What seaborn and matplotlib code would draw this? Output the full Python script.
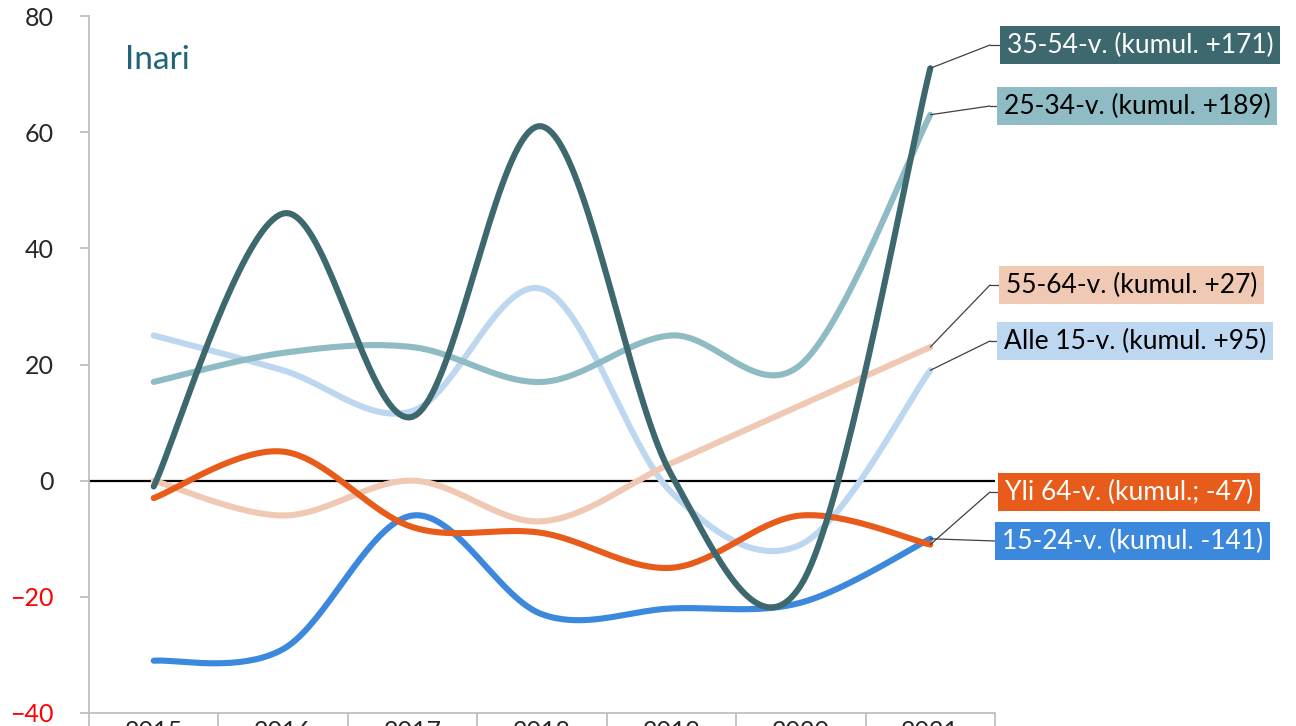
import numpy as np
import pandas as pd
import matplotlib
matplotlib.use("Agg")
import matplotlib.pyplot as plt
import seaborn as sns
from matplotlib.lines import Line2D

years = ["2015", "2016", "2017", "2018", "2019", "2020", "2021"]

age_35_54 = [-1, 46, 11, 61, 1, -18, 71]
age_25_34 = [17, 22, 23, 17, 25, 20, 63]
age_55_64 = [0, -6, 0, -7, 3, 13, 23]
alle_15 = [25, 19, 12, 33, -2, -11, 19]
yli_64 = [-3, 5, -8, -9, -15, -6, -11]
age_15_24 = [-31, -29, -6, -23, -22, -21, -10]

labels = {
    "alle": "Alle 15-v. (kumul. +95)",
    "55": "55-64-v. (kumul. +27)",
    "25": "25-34-v. (kumul. +189)",
    "15": "15-24-v. (kumul. -141)",
    "yli": "Yli 64-v. (kumul.; -47)",
    "35": "35-54-v. (kumul. +171)",
}

series = [
    # key, values, colour, text colour
    ("alle", alle_15, "#BDD7F0", "black"),
    ("55", age_55_64, "#F0C9B5", "black"),
    ("25", age_25_34, "#8FBCC4", "black"),
    ("15", age_15_24, "#3B88DC", "white"),
    ("yli", yli_64, "#E85C1B", "white"),
    ("35", age_35_54, "#3D686E", "white"),
]

# label box placement in figure pixels: (box left, box centre y)
box_pos = {
    "35": (1000, 45),
    "25": (997, 106),
    "55": (999, 285),
    "alle": (997, 341),
    "yli": (998, 492),
    "15": (995, 541),
}


def smooth(x, y, n=40):
    # Excel-style smoothed line (Bezier through the points)
    p = np.column_stack([x, y]).astype(float)
    pp = np.vstack([p[0], p, p[-1]])
    out = []
    t = np.linspace(0, 1, n)[:, None]
    for i in range(len(p) - 1):
        p0, p1, p2, p3 = pp[i], pp[i + 1], pp[i + 2], pp[i + 3]
        c1 = p1 + (p2 - p0) / 6
        c2 = p2 - (p3 - p1) / 6
        seg = (1 - t) ** 3 * p1 + 3 * (1 - t) ** 2 * t * c1 + 3 * (1 - t) * t ** 2 * c2 + t ** 3 * p2
        out.append(seg if i == 0 else seg[1:])
    return np.vstack(out)


sns.set_style("white")
plt.rcParams["font.family"] = ["Lato", "DejaVu Sans"]

W, H = 1296, 726
fig = plt.figure(figsize=(W / 100, H / 100), dpi=100)
ax = fig.add_axes([89 / W, 1 - 713 / H, (995 - 89) / W, (713 - 16) / H])

x = np.arange(len(years))
for key, vals, col, tcol in series:
    sm = smooth(x, vals)
    df = pd.DataFrame({"x": sm[:, 0], "y": sm[:, 1]})
    sns.lineplot(data=df, x="x", y="y", sort=False, color=col, lw=4.4,
                 ax=ax, solid_capstyle="round", zorder=3)

ax.axhline(0, color="black", lw=1.6, zorder=2)

ax.set_xlim(-0.5, len(years) - 0.5)
ax.set_ylim(-40, 80)
ax.set_yticks([-40, -20, 0, 20, 40, 60, 80])
ax.set_xticks(x)
ax.set_xticklabels(years)
ax.set_xticks(np.arange(len(years) + 1) - 0.5, minor=True)
ax.set_xlabel("")
ax.set_ylabel("")

for s in ["top", "right"]:
    ax.spines[s].set_visible(False)
for s in ["left", "bottom"]:
    ax.spines[s].set_color("#BFBFBF")
    ax.spines[s].set_linewidth(1.3)

ax.tick_params(axis="y", left=True, direction="out", length=6.5, width=1.3,
               color="#BFBFBF", labelsize=18, pad=19)
ax.tick_params(axis="x", which="major", bottom=True, length=0, labelsize=18, pad=5)
ax.tick_params(axis="x", which="minor", bottom=True, direction="out",
               length=12, width=1.3, color="#BFBFBF")
for lbl in ax.get_yticklabels():
    if lbl.get_text().startswith(("-", "\u2212")):
        lbl.set_color("red")

fig.text(125 / W, 1 - 60 / H, "Inari", fontsize=24, color="#1F6478",
         ha="left", va="center")

# label boxes with connector lines
for key, vals, col, tcol in series:
    bx, by = box_pos[key]
    fig.text((bx + 7) / W, 1 - by / H, labels[key], fontsize=19, color=tcol,
             ha="left", va="center",
             bbox=dict(boxstyle="square,pad=0.25", fc=col, ec="none"))
    ex = 990 if key != "15" else bx
    ax.annotate("", xy=(x[-1], vals[-1]), xycoords="data",
                xytext=(ex, H - by), textcoords="figure pixels",
                arrowprops=dict(arrowstyle="-", color="#404040", lw=0.9,
                                shrinkA=0, shrinkB=0), zorder=5)
    fig.add_artist(Line2D([ex / W, bx / W], [1 - by / H, 1 - by / H],
                          color="#404040", lw=0.9, transform=fig.transFigure))

fig.savefig("out.png", dpi=100)
